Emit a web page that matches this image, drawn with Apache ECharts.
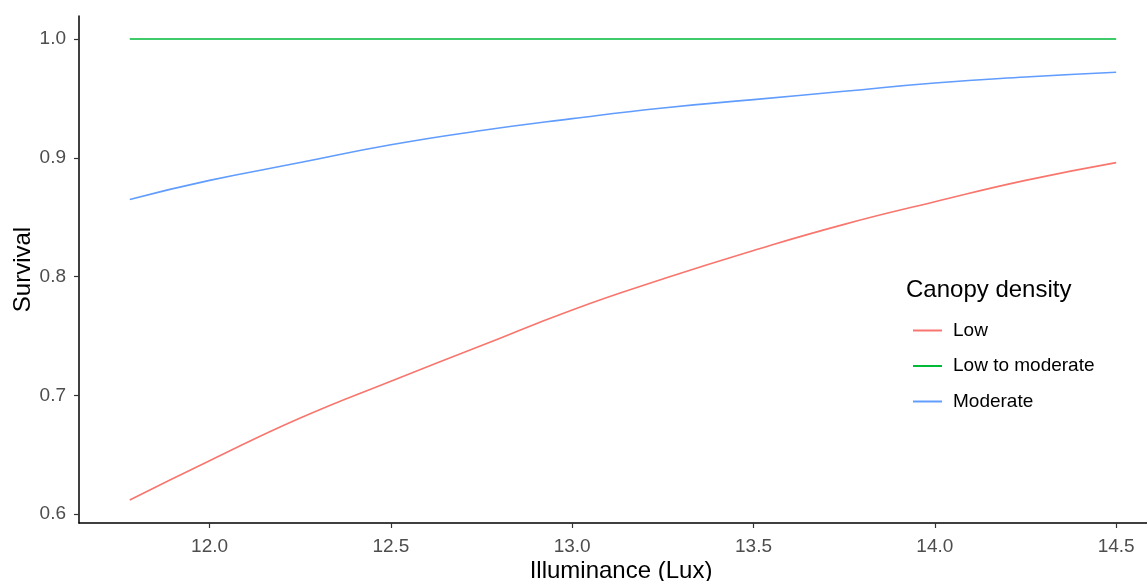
<!DOCTYPE html>
<html>
<head>
<meta charset="utf-8">
<script src="https://cdn.jsdelivr.net/npm/echarts@6/dist/echarts.min.js"></script>
<style>
html,body{margin:0;padding:0;background:#fff;}
#chart{width:1147px;height:581px;}
</style>
</head>
<body>
<div id="chart"></div>
<script>
// Data
const illuminance = [11.78, 12.0, 12.25, 12.5, 12.75, 13.0, 13.25, 13.5, 13.75, 14.0, 14.25, 14.5];
const lowSurvival = [0.612, 0.645, 0.681, 0.712, 0.742, 0.772, 0.798, 0.822, 0.844, 0.863, 0.881, 0.896];
const lowToModerateSurvival = [1.0, 1.0, 1.0, 1.0, 1.0, 1.0, 1.0, 1.0, 1.0, 1.0, 1.0, 1.0];
const moderateSurvival = [0.865, 0.881, 0.896, 0.911, 0.923, 0.933, 0.942, 0.949, 0.956, 0.963, 0.968, 0.972];
const seriesNames = ['Low', 'Low to moderate', 'Moderate'];
const xTicks = [12.0, 12.5, 13.0, 13.5, 14.0, 14.5];
const yTicks = [0.6, 0.7, 0.8, 0.9, 1.0];

const colors = ['#F8766D', '#00BA38', '#619CFF'];
const font = 'Liberation Sans, Arial, sans-serif';

function pairs(xs, ys) { return xs.map((x, i) => [x, ys[i]]); }

const chart = echarts.init(document.getElementById('chart'), null, {renderer: 'canvas'});
const option = {
  animation: false,
  backgroundColor: '#ffffff',
  color: colors,
  title: {
    text: 'Canopy density',
    left: 901, top: 273,
    textStyle: {fontFamily: font, fontSize: 24, fontWeight: 'normal', color: '#000'}
  },
  legend: {
    orient: 'vertical',
    left: 908, top: 316,
    icon: 'rect',
    itemWidth: 29, itemHeight: 2, itemGap: 16.5,
    data: seriesNames,
    textStyle: {fontFamily: font, fontSize: 19, color: '#000', padding: [0, 0, 0, 6]}
  },
  grid: {left: 79, right: 0, top: 16, bottom: 58, containLabel: false, outerBoundsMode: 'none'},
  xAxis: {
    type: 'value',
    min: 11.64, max: 14.585,
    name: 'Illuminance (Lux)',
    nameLocation: 'middle', nameGap: 36, nameMoveOverlap: false,
    nameTextStyle: {fontFamily: font, fontSize: 24, color: '#000', padding: [0, 0, 0, 16]},
    axisLine: {show: true, onZero: false, lineStyle: {color: '#000', width: 1.5}},
    axisTick: {show: true, length: 5, customValues: xTicks, lineStyle: {color: '#333', width: 1.2}},
    axisLabel: {customValues: xTicks, fontFamily: font, fontSize: 19, color: '#4D4D4D', margin: 14,
      formatter: v => v.toFixed(1)},
    splitLine: {show: false}
  },
  yAxis: {
    type: 'value',
    min: 0.5926, max: 1.0194,
    name: 'Survival',
    nameLocation: 'middle', nameGap: 44, nameMoveOverlap: false,
    nameTextStyle: {fontFamily: font, fontSize: 24, color: '#000'},
    axisLine: {show: true, onZero: false, lineStyle: {color: '#000', width: 1.5}},
    axisTick: {show: true, length: 5, customValues: yTicks, lineStyle: {color: '#333', width: 1.2}},
    axisLabel: {customValues: yTicks, fontFamily: font, fontSize: 19, color: '#4D4D4D', margin: 13,
      formatter: v => v.toFixed(1)},
    splitLine: {show: false}
  },
  series: [
    {name: seriesNames[0], type: 'line', data: pairs(illuminance, lowSurvival), smooth: true, symbol: 'none', lineStyle: {width: 1.6}},
    {name: seriesNames[1], type: 'line', data: pairs(illuminance, lowToModerateSurvival), smooth: true, symbol: 'none', lineStyle: {width: 1.6}},
    {name: seriesNames[2], type: 'line', data: pairs(illuminance, moderateSurvival), smooth: true, symbol: 'none', lineStyle: {width: 1.6}}
  ]
};
chart.setOption(option);
</script>
</body>
</html>
